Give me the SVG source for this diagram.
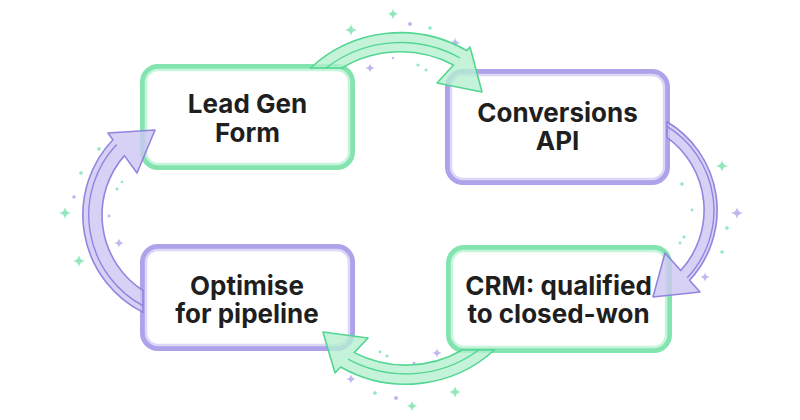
<svg xmlns="http://www.w3.org/2000/svg" width="800" height="420" viewBox="0 0 800 420">
<defs>
<style>
.bg{fill:#ffffff}
.box{fill:#ffffff;stroke-width:6}
.inner{fill:none;stroke-width:2.5}
.g .box{stroke:#84e4b0}
.g .inner{stroke:#c6f5dc}
.p .box{stroke:#aea2ea}
.p .inner{stroke:#dcd6f8}
.lbl{font-family:Inter,"Liberation Sans",Arial,sans-serif;font-weight:700;font-size:26px;fill:#1f1f1f;text-anchor:middle}
.ag{fill:#b4f0cf;fill-opacity:0.78;stroke:#52d692;stroke-width:1.6;stroke-linejoin:round}
.ap{fill:#cdc6f3;fill-opacity:0.8;stroke:#9285df;stroke-width:1.6;stroke-linejoin:round}
.lg{fill:none;stroke:#52d692;stroke-width:1.4}
.lp{fill:none;stroke:#9285df;stroke-width:1.4}
.sg{fill:#6ee0a6;opacity:0.75}
.sp{fill:#ab9fe8;opacity:0.75}
</style>
<path id="star" d="M0 -6 Q0.7 -0.7 6 0 Q0.7 0.7 0 6 Q-0.7 0.7 -6 0 Q-0.7 -0.7 0 -6 Z"/>
</defs>
<rect class="bg" x="0" y="0" width="800" height="420"/>

<g id="sparkles">
<use href="#star" class="sg" transform="translate(393,14) scale(0.9)"/>
<use href="#star" class="sg" transform="translate(351,30) scale(1)"/>
<circle class="sp" cx="410" cy="24" r="2"/>
<circle class="sg" cx="430" cy="28" r="1.8"/>
<use href="#star" class="sp" transform="translate(455,43) scale(0.9)"/>
<use href="#star" class="sp" transform="translate(370,68) scale(0.8)"/>
<circle class="sp" cx="393" cy="58" r="1.2"/>
<circle class="sg" cx="418" cy="65" r="1.6"/>
<circle class="sg" cx="426" cy="70" r="1.4"/>
<circle class="sg" cx="380" cy="352" r="1.4"/>
<circle class="sg" cx="387" cy="356" r="1.6"/>
<use href="#star" class="sp" transform="translate(437,353) scale(0.8)"/>
<circle class="sp" cx="414" cy="363" r="1.5"/>
<use href="#star" class="sp" transform="translate(351,379) scale(0.8)"/>
<circle class="sg" cx="375" cy="393" r="1.8"/>
<circle class="sp" cx="396" cy="398" r="2"/>
<use href="#star" class="sg" transform="translate(455,392) scale(1)"/>
<use href="#star" class="sg" transform="translate(412,406) scale(0.9)"/>
<circle class="sg" cx="99" cy="149" r="1.8"/>
<circle class="sg" cx="81" cy="173" r="1.8"/>
<circle class="sg" cx="122" cy="182" r="1.3"/>
<circle class="sg" cx="117" cy="189" r="1.5"/>
<circle class="sp" cx="74" cy="197" r="1.8"/>
<use href="#star" class="sg" transform="translate(65,213) scale(1)"/>
<circle class="sp" cx="109" cy="216" r="1.4"/>
<use href="#star" class="sp" transform="translate(119,243) scale(0.8)"/>
<use href="#star" class="sg" transform="translate(79,261) scale(1)"/>
<use href="#star" class="sg" transform="translate(722,166) scale(1)"/>
<circle class="sg" cx="682" cy="184" r="1.8"/>
<circle class="sg" cx="692" cy="210" r="1.4"/>
<use href="#star" class="sp" transform="translate(737,213) scale(1)"/>
<circle class="sg" cx="727" cy="228" r="1.8"/>
<circle class="sg" cx="684" cy="237" r="1.6"/>
<circle class="sg" cx="680" cy="243" r="1.4"/>
<circle class="sg" cx="722" cy="252" r="1.8"/>
<use href="#star" class="sp" transform="translate(705,277) scale(0.8)"/>
</g>

<g id="node-leadgen" class="g">
<rect class="box" x="143" y="67" width="209" height="100" rx="15"/>
<rect class="inner" x="146" y="70" width="203" height="94" rx="12"/>
<text class="lbl" x="247.5" y="113">Lead Gen</text>
<text class="lbl" x="247.5" y="142">Form</text>
</g>

<g id="node-capi" class="p">
<rect class="box" x="448" y="72" width="219" height="110" rx="15"/>
<rect class="inner" x="451" y="75" width="213" height="104" rx="12"/>
<text class="lbl" x="557.5" y="122">Conversions</text>
<text class="lbl" x="557.5" y="150">API</text>
</g>

<g id="node-crm" class="g">
<rect class="box" x="449" y="248" width="220" height="102" rx="15"/>
<rect class="inner" x="452" y="251" width="214" height="96" rx="12"/>
<text class="lbl" x="558.5" y="295">CRM: qualified</text>
<text class="lbl" x="558.5" y="323">to closed-won</text>
</g>

<g id="node-optimise" class="p">
<rect class="box" x="143" y="247" width="209" height="101" rx="15"/>
<rect class="inner" x="146" y="250" width="203" height="95" rx="12"/>
<text class="lbl" x="247" y="295">Optimise</text>
<text class="lbl" x="247" y="323">for pipeline</text>
</g>

<g id="connectors">
<g id="arrow-top">
<path class="ag" d="M310.5 68 A132 132 0 0 1 466.7 50.6 L470 47 L482 92 L437 83 L453.5 65 A113 113 0 0 0 342 68 Z"/>
<path class="lg" d="M326 68 A122 122 0 0 1 460 58"/>
</g>
<g id="arrow-right">
<path class="ap" d="M667 121.7 A103 103 0 0 1 689.5 280.3 L700 292 L653 297 L665 253 L680.75 270.55 A90 90 0 0 0 667 137.3 Z"/>
<path class="lp" d="M667 126.4 A98.5 98.5 0 0 1 687.2 277.8"/>
</g>
<g id="arrow-bottom">
<path class="ag" d="M494.4 350 A132 132 0 0 1 340.6 367 L335 373 L323 332 L368 338 L354.2 352.6 A113 113 0 0 0 462.3 350 Z"/>
<path class="lg" d="M478.7 350 A122 122 0 0 1 348 359.2"/>
</g>
<g id="arrow-left">
<path class="ap" d="M143 312.4 A109 109 0 0 1 112.9 139.8 L108 133 L155 130 L137 173 L124.4 155.6 A90 90 0 0 0 143 290.5 Z"/>
<path class="lp" d="M143 305.8 A103 103 0 0 1 116.6 144.6"/>
</g>
</g>
</svg>
